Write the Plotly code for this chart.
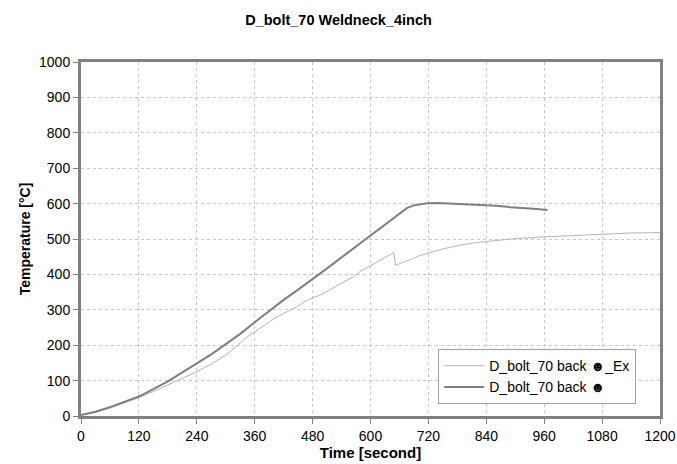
import plotly.graph_objects as go

# Series: D_bolt_70 back (solid, darker)
t_back = [0, 30, 60, 90, 120, 150, 180, 210, 240, 270, 300, 330, 360, 392, 420, 450, 480,
          510, 540, 570, 600, 620, 641, 660, 676, 690, 705, 718, 740, 760, 780, 800, 828,
          860, 890, 910, 930, 950, 967]
T_back = [3, 12, 25, 39, 55, 76, 98, 123, 149, 174, 203, 232, 265, 300, 328, 357, 386,
          417, 448, 479, 511, 532, 554, 573, 588, 595, 599, 601, 602, 601, 600, 599, 597,
          594, 590, 589, 586, 584, 582]

# Series: D_bolt_70 back _Ex (thin, lighter)
t_ex = [0, 30, 60, 90, 120, 150, 180, 210, 240, 270, 300, 320, 340, 360, 380, 400, 420,
        448, 465, 480, 500, 520, 535, 552, 565, 580, 595, 614, 630, 640, 648, 652, 665,
        683, 700, 718, 750, 787, 820, 856, 900, 960, 1020, 1077, 1140, 1200]
T_ex = [3, 11, 22, 36, 52, 69, 88, 106, 125, 147, 172, 194, 219, 238, 256, 275, 290,
        309, 324, 334, 344, 360, 371, 384, 393, 410, 420, 436, 448, 455, 462, 426, 432,
        442, 452, 460, 472, 483, 490, 495, 501, 506, 510, 514, 517, 518]

x_ticks = [0, 120, 240, 360, 480, 600, 720, 840, 960, 1080, 1200]
y_ticks = [0, 100, 200, 300, 400, 500, 600, 700, 800, 900, 1000]

font_family = "Liberation Sans, Arial, sans-serif"

fig = go.Figure()
fig.add_trace(go.Scatter(
    x=t_ex, y=T_ex, mode="lines", name="D_bolt_70 back \u263b_Ex",
    line=dict(color="#b4b4b4", width=1),
))
fig.add_trace(go.Scatter(
    x=t_back, y=T_back, mode="lines", name="D_bolt_70 back \u263b",
    line=dict(color="#7f7f7f", width=2),
))

fig.update_layout(
    width=677, height=464,
    margin=dict(l=81, r=17, t=62, b=48, autoexpand=False),
    paper_bgcolor="white", plot_bgcolor="white",
    font=dict(family=font_family, size=14, color="black"),
    title=dict(text="<b>D_bolt_70 Weldneck_4inch</b>", x=0.5, xanchor="center",
               y=1 - 20 / 464, yanchor="middle", yref="container",
               font=dict(size=14.5, family=font_family, color="black")),
    showlegend=True,
    legend=dict(x=0.617, y=0.189, xanchor="left", yanchor="top",
                bgcolor="white", bordercolor="#a0a0a0", borderwidth=1,
                font=dict(size=14, family=font_family, color="black"),
                tracegroupgap=0, itemwidth=40),
)
fig.update_xaxes(
    range=[0, 1200], tickvals=x_ticks, ticktext=[str(v) for v in x_ticks],
    showgrid=True, gridcolor="#c8c8c8", griddash="dot", gridwidth=1,
    showline=True, mirror=True, linecolor="#808080", linewidth=3,
    ticks="outside", ticklen=5, tickcolor="#808080",
    zeroline=False, automargin=False,
    title=dict(text="<b>Time [second]</b>", font=dict(size=15), standoff=2),
    tickfont=dict(size=14),
)
fig.update_yaxes(
    range=[0, 1000], tickvals=y_ticks, ticktext=[str(v) for v in y_ticks],
    showgrid=True, gridcolor="#c8c8c8", griddash="dot", gridwidth=1,
    showline=True, mirror=True, linecolor="#808080", linewidth=3,
    ticks="outside", ticklen=5, tickcolor="#808080",
    zeroline=False, automargin=False,
    title=dict(text="<b>Temperature [\u00b0C]</b>", font=dict(size=14), standoff=6),
    tickfont=dict(size=14),
)

fig.write_html("out.html")
